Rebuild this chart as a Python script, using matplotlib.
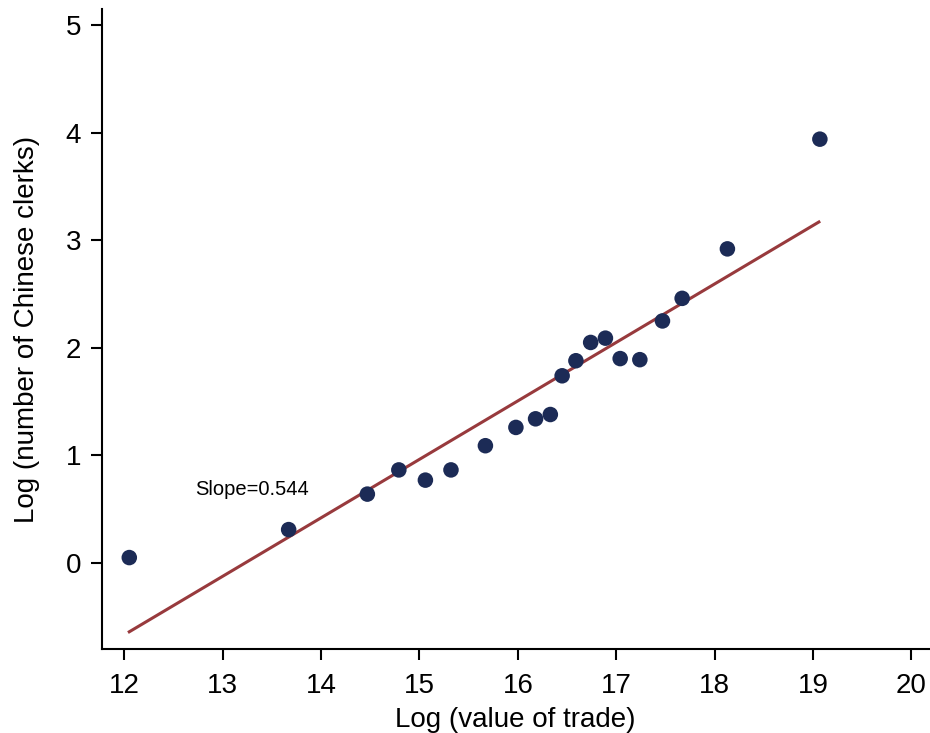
import matplotlib
matplotlib.use("Agg")
from matplotlib import pyplot as plt

plt.rcParams['font.family'] = ['Liberation Sans', 'DejaVu Sans']

# Binned scatter: log value of trade vs log number of Chinese clerks
log_trade = [12.05, 13.67, 14.47, 14.79, 15.06, 15.32, 15.67, 15.98, 16.18, 16.33,
             16.45, 16.59, 16.74, 16.89, 17.04, 17.24, 17.47, 17.67, 18.13, 19.07]
log_clerks = [0.05, 0.31, 0.64, 0.865, 0.77, 0.865, 1.09, 1.26, 1.34, 1.38,
              1.74, 1.88, 2.05, 2.09, 1.90, 1.89, 2.25, 2.46, 2.92, 3.94]

# Fitted line endpoints
fit_x = [12.05, 19.06]
fit_y = [-0.64, 3.17]

x_ticks = list(range(12, 21))
y_ticks = list(range(0, 6))

fig = plt.figure(figsize=(9.30, 7.33), dpi=100)
ax = fig.add_axes([0.1094, 0.1146, 0.8896, 0.8731])

ax.plot(fit_x, fit_y, color='#983a3d', linewidth=2.2, zorder=2)
ax.scatter(log_trade, log_clerks, s=125, color='#1c2b56', edgecolors='none', zorder=3)
ax.text(12.72, 0.68, 'Slope=0.544', fontsize=14.5, va='center', ha='left')

ax.set_xlim(11.77, 20.18)
ax.set_ylim(-0.80, 5.15)
ax.set_xticks(x_ticks)
ax.set_yticks(y_ticks)
ax.tick_params(axis='both', direction='out', length=8, width=1.5, labelsize=20)
ax.tick_params(axis='x', pad=9)
ax.tick_params(axis='y', pad=7)

ax.spines['top'].set_visible(False)
ax.spines['right'].set_visible(False)
ax.spines['left'].set_linewidth(1.5)
ax.spines['bottom'].set_linewidth(1.5)

ax.set_xlabel('Log (value of trade)', fontsize=20, labelpad=6)
ax.set_ylabel('Log (number of Chinese clerks)', fontsize=20, labelpad=18)

fig.savefig('out.png', dpi=100, facecolor='white')
